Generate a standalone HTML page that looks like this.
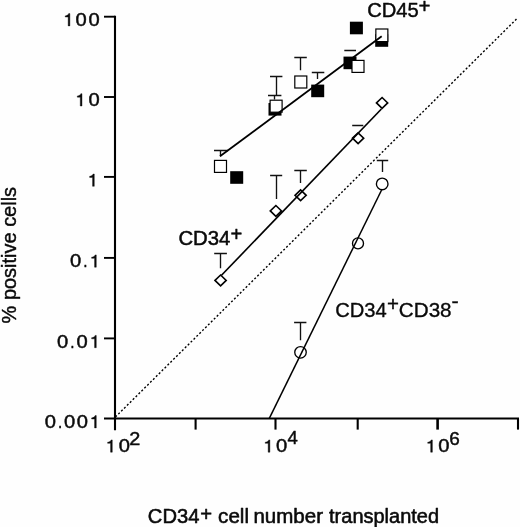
<!DOCTYPE html>
<html><head><meta charset="utf-8"><title>Figure</title>
<style>
html,body{margin:0;padding:0;background:#fefefe;}
svg{display:block;}
text{font-family:"Liberation Sans",sans-serif;fill:#0a0a0a;stroke:#0a0a0a;stroke-linejoin:round;}
#fig{will-change:transform;}
</style></head>
<body>
<svg id="fig" width="520" height="527" viewBox="0 0 520 527">
<rect width="520" height="527" fill="#fefefe"/>
<g stroke="#000" stroke-width="2.1" fill="none" stroke-linecap="butt">
<path d="M115.0 15.85V430.2"/>
<path d="M104 418.5H519"/>
<path d="M195.6 418.5V429.6"/>
<path d="M275.5 418.5V429.6"/>
<path d="M357.7 418.5V429.6"/>
<path d="M437.6 418.5V429.6" stroke-width="2.6"/>
<path d="M518.0 418.5V429.6"/>
<path d="M104 16.7H115.0" stroke-width="1.9"/>
<path d="M104 97.0H115.0" stroke-width="1.9"/>
<path d="M104 176.9H115.0" stroke-width="1.9"/>
<path d="M104 257.9H115.0" stroke-width="1.9"/>
<path d="M104 338.4H115.0" stroke-width="1.9"/>
</g>
<path d="M115.4 417.0L517.3 18.2" stroke="#000" stroke-width="1.4" stroke-dasharray="2 2.08" fill="none"/>
<g stroke="#111" stroke-width="1.35" fill="none">
<path d="M214.0 150.5H228.1M220.5 150.5V156.3"/>
<path d="M270.0 76.5H282.4M276.5 76.5V95.5"/>
<path d="M268.0 95.5H281.4M274.5 95.5V99.5"/>
<path d="M294.3 57.5H306.8M300.5 57.5V70.2"/>
<path d="M311.8 72.5H324.3M317.5 72.5V78.9"/>
<path d="M344.3 50.5H356.0M350.5 50.5V50.4"/>
<path d="M214.2 253.5H226.9M220.5 253.5V268.3"/>
<path d="M270.1 175.5H282.2M276.5 175.5V199.0"/>
<path d="M294.3 170.5H306.8M300.5 170.5V183.1"/>
<path d="M352.2 125.5H363.3M358.5 125.5V125.4"/>
<path d="M376.8 160.5H388.2M382.5 160.5V171.9"/>
<path d="M294.1 322.5H306.4M300.5 322.5V340.2"/>
</g>
<rect x="230.20" y="171.20" width="13.0" height="12.6" fill="#000"/>
<rect x="268.50" y="103.00" width="13.0" height="12.6" fill="#000"/>
<rect x="311.20" y="84.60" width="13.0" height="12.6" fill="#000"/>
<rect x="343.50" y="56.60" width="13.0" height="12.6" fill="#000"/>
<rect x="349.90" y="21.70" width="13.0" height="12.6" fill="#000"/>
<rect x="375.20" y="34.20" width="13.0" height="12.6" fill="#000"/>
<rect x="214.50" y="160.40" width="12.0" height="12.0" fill="#fff" stroke="#000" stroke-width="1.2"/>
<rect x="270.10" y="100.20" width="12.0" height="12.0" fill="#fff" stroke="#000" stroke-width="1.2"/>
<rect x="294.80" y="76.00" width="12.0" height="12.0" fill="#fff" stroke="#000" stroke-width="1.2"/>
<rect x="352.00" y="60.40" width="12.0" height="12.0" fill="#fff" stroke="#000" stroke-width="1.2"/>
<rect x="375.85" y="29.00" width="12.0" height="12.6" fill="#fff" stroke="#000" stroke-width="1.2"/>
<path d="M215.00 280.4L220.6 275.00L226.20 280.4L220.6 285.80Z" fill="#fff" stroke="#000" stroke-width="1.6"/>
<path d="M270.30 210.9L275.9 205.50L281.50 210.9L275.9 216.30Z" fill="#fff" stroke="#000" stroke-width="1.6"/>
<path d="M295.00 195.3L300.6 189.90L306.20 195.3L300.6 200.70Z" fill="#fff" stroke="#000" stroke-width="1.6"/>
<path d="M352.50 138.2L358.1 132.80L363.70 138.2L358.1 143.60Z" fill="#fff" stroke="#000" stroke-width="1.6"/>
<path d="M376.50 102.9L382.1 97.50L387.70 102.9L382.1 108.30Z" fill="#fff" stroke="#000" stroke-width="1.6"/>
<circle cx="300.5" cy="352.3" r="5.75" fill="#fff" stroke="#000" stroke-width="1.35"/>
<circle cx="358.0" cy="243.4" r="5.5" fill="#fff" stroke="#000" stroke-width="1.35"/>
<circle cx="382.2" cy="183.9" r="5.8" fill="#fff" stroke="#000" stroke-width="1.35"/>
<g stroke="#000" stroke-width="1.65" fill="none">
<path d="M220 156.3L381.7 36.2" stroke-width="1.8"/>
<path d="M221.5 275.3L381.4 109"/>
<path d="M269.3 418.4L381.6 190.0" stroke-width="1.5"/>
</g>
<path transform="translate(63.38,25.90) scale(0.01845,-0.01840)" d="M352 0L260 0L260 482L100 482L100 544C195 550 262 596 290 668L352 668Z" fill="#0a0a0a" stroke="#0a0a0a" stroke-width="21.7" stroke-linejoin="round"/>
<text transform="translate(75.44,25.90) scale(1.0971,1)" font-size="18.4" stroke-width="0.45">0</text>
<text transform="translate(88.44,25.90) scale(1.0971,1)" font-size="18.4" stroke-width="0.45">0</text>
<path transform="translate(75.48,106.00) scale(0.01845,-0.01840)" d="M352 0L260 0L260 482L100 482L100 544C195 550 262 596 290 668L352 668Z" fill="#0a0a0a" stroke="#0a0a0a" stroke-width="21.7" stroke-linejoin="round"/>
<text transform="translate(88.44,106.00) scale(1.0971,1)" font-size="18.4" stroke-width="0.45">0</text>
<path transform="translate(87.78,186.30) scale(0.01845,-0.01840)" d="M352 0L260 0L260 482L100 482L100 544C195 550 262 596 290 668L352 668Z" fill="#0a0a0a" stroke="#0a0a0a" stroke-width="21.7" stroke-linejoin="round"/>
<text transform="translate(70.04,267.20) scale(1.0971,1)" font-size="18.4" stroke-width="0.45">0</text>
<text transform="translate(83.23,267.20) scale(0.8276,1)" font-size="18.4" stroke-width="0.45">.</text>
<path transform="translate(89.78,267.20) scale(0.01845,-0.01840)" d="M352 0L260 0L260 482L100 482L100 544C195 550 262 596 290 668L352 668Z" fill="#0a0a0a" stroke="#0a0a0a" stroke-width="21.7" stroke-linejoin="round"/>
<text transform="translate(57.04,347.70) scale(1.0971,1)" font-size="18.4" stroke-width="0.45">0</text>
<text transform="translate(70.33,347.70) scale(0.8276,1)" font-size="18.4" stroke-width="0.45">.</text>
<text transform="translate(76.44,347.70) scale(1.0971,1)" font-size="18.4" stroke-width="0.45">0</text>
<path transform="translate(89.78,347.70) scale(0.01845,-0.01840)" d="M352 0L260 0L260 482L100 482L100 544C195 550 262 596 290 668L352 668Z" fill="#0a0a0a" stroke="#0a0a0a" stroke-width="21.7" stroke-linejoin="round"/>
<text transform="translate(44.84,427.90) scale(1.0971,1)" font-size="18.4" stroke-width="0.45">0</text>
<text transform="translate(58.03,427.90) scale(0.8276,1)" font-size="18.4" stroke-width="0.45">.</text>
<text transform="translate(64.04,427.90) scale(1.0971,1)" font-size="18.4" stroke-width="0.45">0</text>
<text transform="translate(76.84,427.90) scale(1.0971,1)" font-size="18.4" stroke-width="0.45">0</text>
<path transform="translate(89.78,427.90) scale(0.01845,-0.01840)" d="M352 0L260 0L260 482L100 482L100 544C195 550 262 596 290 668L352 668Z" fill="#0a0a0a" stroke="#0a0a0a" stroke-width="21.7" stroke-linejoin="round"/>
<path transform="translate(105.78,452.20) scale(0.01845,-0.01840)" d="M352 0L260 0L260 482L100 482L100 544C195 550 262 596 290 668L352 668Z" fill="#0a0a0a" stroke="#0a0a0a" stroke-width="21.7" stroke-linejoin="round"/>
<text transform="translate(118.64,452.20) scale(1.0971,1)" font-size="18.4" stroke-width="0.45">0</text>
<text transform="translate(129.23,445.10) scale(1.0796,1)" font-size="18.4" stroke-width="0.45">2</text>
<path transform="translate(263.38,452.20) scale(0.01845,-0.01840)" d="M352 0L260 0L260 482L100 482L100 544C195 550 262 596 290 668L352 668Z" fill="#0a0a0a" stroke="#0a0a0a" stroke-width="21.7" stroke-linejoin="round"/>
<text transform="translate(276.04,452.20) scale(1.0971,1)" font-size="18.4" stroke-width="0.45">0</text>
<text transform="translate(287.40,444.30) scale(1.0084,1)" font-size="18.4" stroke-width="0.45">4</text>
<path transform="translate(425.88,452.20) scale(0.01845,-0.01840)" d="M352 0L260 0L260 482L100 482L100 544C195 550 262 596 290 668L352 668Z" fill="#0a0a0a" stroke="#0a0a0a" stroke-width="21.7" stroke-linejoin="round"/>
<text transform="translate(438.24,452.20) scale(1.0971,1)" font-size="18.4" stroke-width="0.45">0</text>
<text transform="translate(449.16,445.20) scale(1.0306,1)" font-size="18.4" stroke-width="0.45">6</text>
<text transform="translate(367.20,16.90) scale(1.0250,1)" font-size="19.7" stroke-width="0.45">CD45</text>
<text transform="translate(418.53,13.30) scale(1.0396,1)" font-size="19.7" stroke-width="0.45">+</text>
<text transform="translate(178.42,244.60) scale(1.0310,1)" font-size="19.7" stroke-width="0.5">CD34</text>
<text transform="translate(230.47,240.60) scale(1.0239,1)" font-size="19.7" stroke-width="0.5">+</text>
<text transform="translate(335.25,316.50) scale(1.0238,1)" font-size="19.7" stroke-width="0.35">CD34</text>
<text transform="translate(386.88,310.50) scale(1.0396,1)" font-size="19.7" stroke-width="0.35">+</text>
<text transform="translate(398.83,316.50) scale(1.0483,1)" font-size="19.7" stroke-width="0.35">CD38</text>
<text transform="translate(451.42,308.00) scale(1.0916,1)" font-size="19.7" stroke-width="0.35">-</text>
<text transform="translate(147.85,522.50) scale(1.0238,1)" font-size="19.7" stroke-width="0.55">CD34</text>
<text transform="translate(200.19,520.50) scale(1.0291,1)" font-size="19.7" stroke-width="0.55">+</text>
<text transform="translate(218.10,522.60) scale(1.0454,1)" font-size="19.7" stroke-width="0.55">cell</text>
<text transform="translate(253.41,522.60) scale(1.0413,1)" font-size="19.7" stroke-width="0.55">number</text>
<text transform="translate(329.07,522.60) scale(1.0149,1)" font-size="19.7" stroke-width="0.55">transplanted</text>
<text transform="translate(15.70,323.40) rotate(-90) scale(1.0137,1)" font-size="19.7" stroke-width="0.42">% positive cells</text>
</svg>
</body></html>
